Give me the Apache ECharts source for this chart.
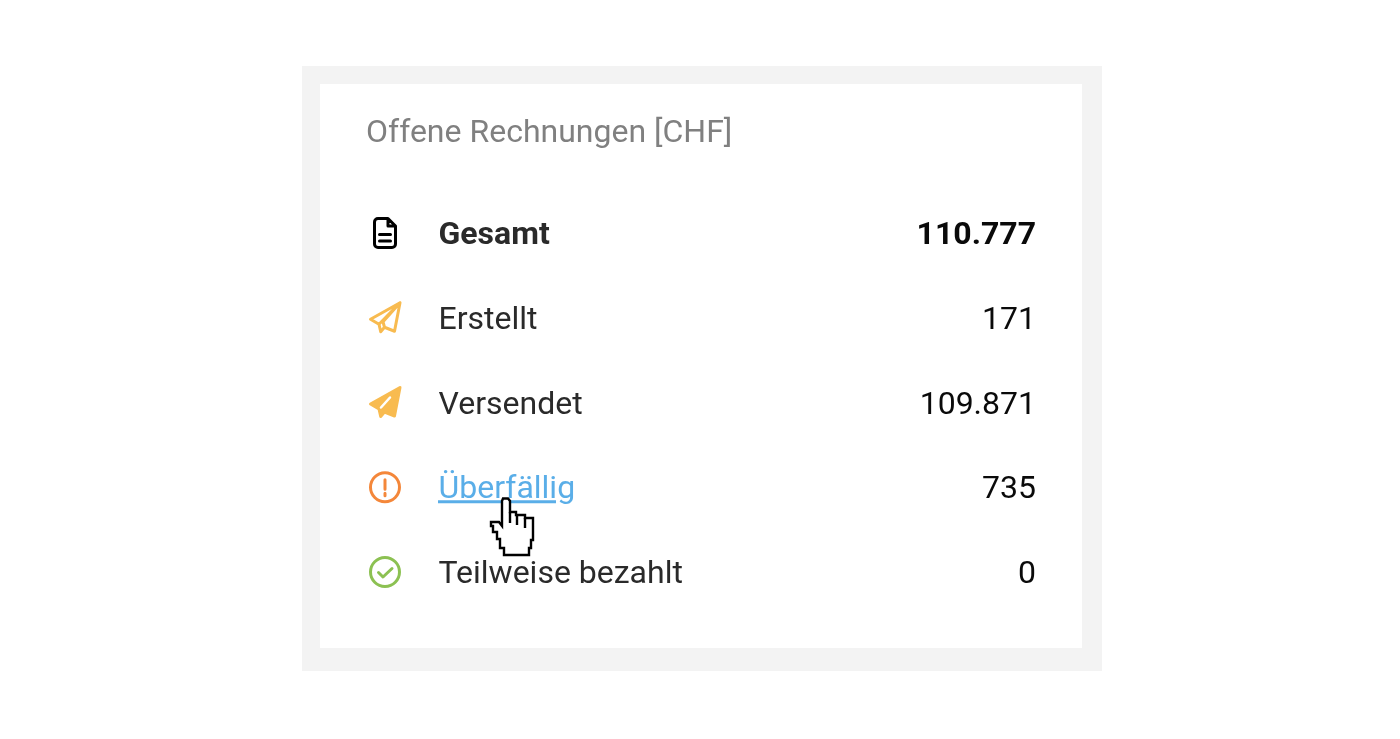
<!DOCTYPE html>
<html>
<head>
    <meta charset="utf-8">
    <title>Offene Rechnungen</title>
    <style>html,body{margin:0;padding:0;background:#fff}</style>
</head>
<body>
<div id="main" style="width:1400px;height:739px;"></div>
<script src="https://cdn.jsdelivr.net/npm/echarts@6/dist/echarts.min.js"></script>
<script type="text/javascript">
    var chartTitle = 'Offene Rechnungen [CHF]';
    var categories = ['Gesamt', 'Erstellt', 'Versendet', 'Überfällig', 'Teilweise bezahlt'];
    var amounts = [110777, 171, 109871, 735, 0];
    var iconColors = ['#000000', '#f8bb50', '#f8bb50', '#f4873a', '#8cc152'];

    // icons, drawn around the middle of their row
    var plane = 'M15 -15 L-14.5 1.5 L-6 6.5 L-4.3 14 L-0.5 9.5 L9.5 13.5 Z';
    var iconPaths = [
        'M-7 -14.5 H3 L10.5 -7 V11 A3.5 3.5 0 0 1 7 14.5 H-7 A3.5 3.5 0 0 1 -10.5 11 V-11 A3.5 3.5 0 0 1 -7 -14.5 Z M3 -14 V-7 H10 M-5.5 1.5 H5.5 M-5.5 8 H5.5',
        plane + ' M15 -15 L-6 6.5 M15 -15 L-2 4 L-0.5 9.5',
        plane,
        'M0 -14.5 A14.5 14.5 0 1 1 -0.01 -14.5 Z M0 -7.5 V2 M0 6 V8.5',
        'M0 -14.5 A14.5 14.5 0 1 1 -0.01 -14.5 Z M-6.5 0.5 L-2 5 L7 -3.5'
    ];

    var cursorOutline = [[503, 498.5], [508, 498.5], [510, 501], [510, 512], [516, 512], [516, 515], [525, 515], [525, 518], [533, 518],
        [533, 540], [531, 540], [531, 548], [529, 548], [529, 555], [504, 555], [504, 548], [500, 548], [500, 539], [497, 539],
        [497, 532], [493, 532], [493, 526], [491, 526], [491, 522], [499, 522], [502, 526], [502, 501]];
    var cursorFingers = [[510, 512, 510, 523], [517, 515, 517, 525], [525, 518, 525, 528]];

    function formatAmount(v) {
        return String(v).replace(/\B(?=(\d{3})+$)/g, '.');
    }

    function renderRow(params, api) {
        var i = params.dataIndex;
        var y = api.coord([0, api.value(1)])[1];
        var bold = i === 0;
        var link = i === 3;
        var children = [
            {
                type: 'text',
                x: 438.5,
                y: y + 3,
                style: {
                    text: categories[i],
                    fontFamily: 'Roboto',
                    fontSize: 32,
                    fontWeight: bold ? 700 : 400,
                    fill: link ? '#5aaee8' : '#2a2a2a',
                    align: 'left',
                    verticalAlign: 'middle'
                }
            },
            {
                type: 'text',
                x: 1036,
                y: y + 3,
                style: {
                    text: formatAmount(api.value(0)),
                    fontFamily: 'Roboto',
                    fontSize: 32,
                    fontWeight: bold ? 700 : 400,
                    fill: '#0a0a0a',
                    align: 'right',
                    verticalAlign: 'middle'
                }
            },
            {
                type: 'path',
                x: 385,
                y: y,
                shape: { pathData: iconPaths[i] },
                style: {
                    fill: i === 2 ? iconColors[i] : 'none',
                    stroke: iconColors[i],
                    lineWidth: 3,
                    lineJoin: 'round',
                    lineCap: 'round'
                }
            }
        ];
        if (i === 2) {
            // slit in the filled plane
            children.push({
                type: 'line',
                shape: { x1: 390, y1: y - 5, x2: 381, y2: y + 5 },
                style: { stroke: '#fff', lineWidth: 2.5, lineCap: 'round' }
            });
        }
        if (link) {
            children.push({
                type: 'rect',
                shape: { x: 438, y: y + 13, width: 118, height: 3 },
                style: { fill: '#5aaee8' }
            });
        }
        return { type: 'group', children: children };
    }

    var frame = [
        { type: 'rect', z: 0, shape: { x: 302, y: 66, width: 800, height: 605 }, style: { fill: '#f3f3f3' } },
        { type: 'rect', z: 0, shape: { x: 320, y: 84, width: 762, height: 564 }, style: { fill: '#ffffff' } },
        {
            type: 'polygon',
            z: 50,
            shape: { points: cursorOutline },
            style: { fill: '#ffffff', stroke: '#000000', lineWidth: 2.4, lineJoin: 'miter' }
        }
    ];
    cursorFingers.forEach(function (f) {
        frame.push({
            type: 'line',
            z: 51,
            shape: { x1: f[0], y1: f[1], x2: f[2], y2: f[3] },
            style: { stroke: '#000000', lineWidth: 2.4 }
        });
    });

    var myChart = echarts.init(document.getElementById('main'));
    var option = {
        animation: false,
        title: {
            text: chartTitle,
            left: 366,
            top: 118,
            padding: 0,
            textStyle: { fontFamily: 'Roboto', fontSize: 32, fontWeight: 400, color: '#808080' }
        },
        grid: { left: 320, top: 190.6, width: 762, height: 423.8 },
        xAxis: { type: 'value', show: false, min: 0, max: 200000 },
        yAxis: { type: 'category', show: false, inverse: true, data: categories },
        graphic: frame,
        series: [{
            type: 'custom',
            renderItem: renderRow,
            encode: { x: 0, y: 1 },
            data: amounts.map(function (v, i) { return [v, categories[i]]; })
        }]
    };
    myChart.setOption(option);
</script>
</body>
</html>
